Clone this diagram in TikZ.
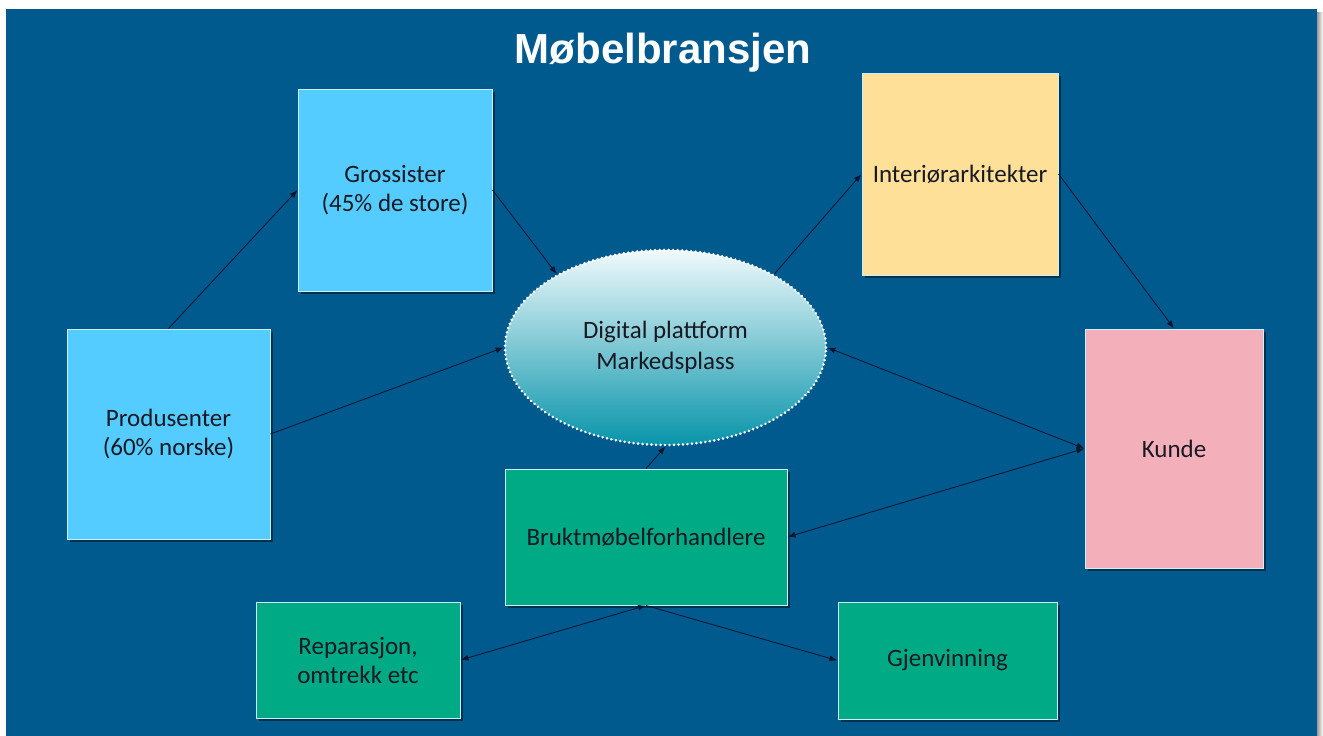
\documentclass[tikz,border=0pt]{standalone}
\usepackage{fontspec}
\setmainfont{Carlito}
\newfontfamily\titlefont{Liberation Sans}
\usetikzlibrary{arrows.meta,shapes.geometric,shadows}

\definecolor{bgblue}{RGB}{0,90,142}
\definecolor{skyfill}{RGB}{85,204,255}
\definecolor{sandfill}{RGB}{255,224,153}
\definecolor{rosefill}{RGB}{244,176,186}
\definecolor{greenfill}{RGB}{0,170,132}
\definecolor{inkdark}{RGB}{25,25,35}
\definecolor{linkdark}{RGB}{8,22,50}
\definecolor{tealdeep}{RGB}{8,148,170}
\definecolor{tealmid}{RGB}{110,198,212}
\definecolor{tealtop}{RGB}{240,250,252}

\tikzset{
  card/.style={rectangle, draw=white!80!cyan, line width=1pt, inner sep=4pt,
    align=center, text=inkdark, font=\fontsize{25}{29}\selectfont,
    drop shadow={shadow xshift=3pt, shadow yshift=-3pt, opacity=0.45, fill=black}},
  hub/.style={ellipse, draw=white, line width=2.8pt, line cap=round,
    dash pattern=on 0.1pt off 4.4pt, top color=tealtop, middle color=tealmid,
    bottom color=tealdeep, align=center, text=inkdark,
    font=\fontsize{25}{31}\selectfont},
  tip/.tip={Latex[length=8pt,width=6pt]},
  link/.style={draw=linkdark, line width=0.85pt, -tip},
  twolink/.style={draw=linkdark, line width=0.85pt, tip-tip},
}

\begin{document}
\begin{tikzpicture}[x=1pt, y=-1pt]
  \useasboundingbox (0,0) rectangle (1323,736);
  % page, slide and its right-hand shadow
  \fill[white] (0,0) rectangle (1323,736);
  \shade[left color=black!40, right color=white] (1317,12) rectangle (1323,736);
  \fill[bgblue] (6,9) rectangle (1317,736);

  \node[text=white, font=\titlefont\bfseries\fontsize{42}{50}\selectfont] (title) at (663,53) {Møbelbransjen};

  % actors
  \node[card, fill=skyfill, minimum width=194pt, minimum height=202pt] (gros) at (395,190) {Grossister\\(45\% de store)};
  \node[card, fill=skyfill, minimum width=203pt, minimum height=210pt] (prod) at (168.5,434) {Produsenter\\(60\% norske)};
  \node[card, fill=sandfill, minimum width=196pt, minimum height=202pt] (intr) at (960,174) {Interiørarkitekter};
  \node[card, fill=rosefill, minimum width=178pt, minimum height=239pt] (kunde) at (1174,448.5) {Kunde};
  \node[card, fill=greenfill, minimum width=282pt, minimum height=136pt] (brukt) at (646,537) {Bruktmøbelforhandlere};
  \node[card, fill=greenfill, minimum width=204pt, minimum height=116pt] (repar) at (358,660) {Reparasjon,\\omtrekk etc};
  \node[card, fill=greenfill, minimum width=219pt, minimum height=117pt] (gjen) at (947.5,660.5) {Gjenvinning};

  % marketplace
  \node[hub, minimum width=321pt, minimum height=195pt] (plat) at (665.5,347.5) {Digital plattform\\Markedsplass};

  % flows
  \draw[link] (prod.north) -- (gros.west);
  \draw[link] (gros.east) -- (plat.146);
  \draw[link] (prod.east) -- (plat.west);
  \draw[link] (plat.34) -- (intr.west);
  \draw[link] (intr.east) -- (kunde.north);
  \draw[twolink] (plat.east) -- (kunde.west);
  \draw[twolink] (brukt.east) -- (kunde.west);
  \draw[link] (brukt.north) -- (plat.south);
  \draw[twolink] (repar.east) -- (brukt.south);
  \draw[link] (brukt.south) -- (gjen.west);
\end{tikzpicture}
\end{document}
